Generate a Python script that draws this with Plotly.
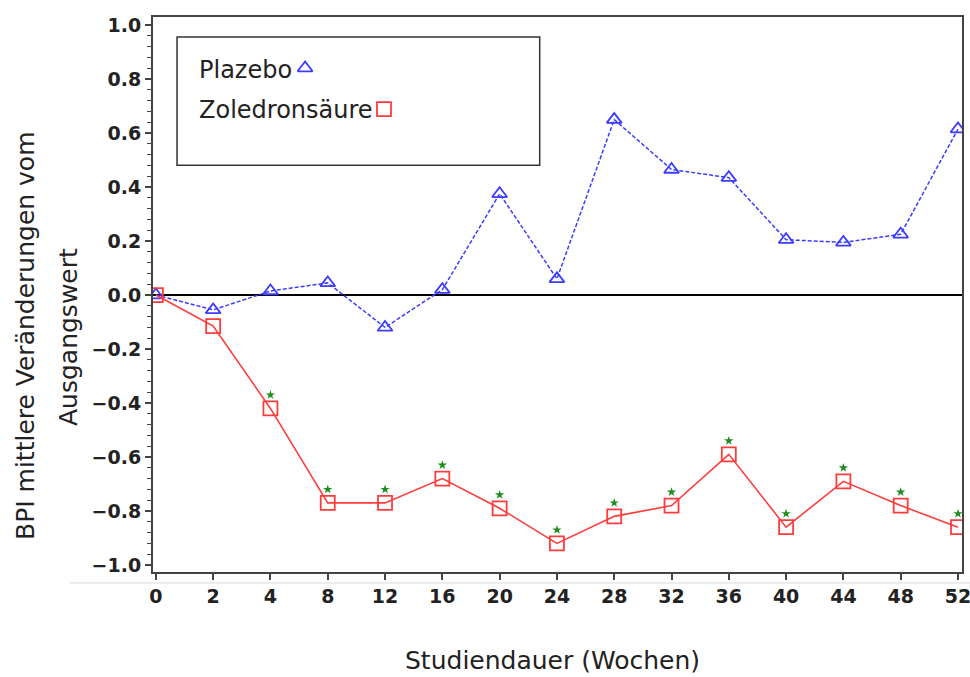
import plotly.graph_objects as go

weeks = ["0", "2", "4", "8", "12", "16", "20", "24", "28", "32", "36", "40", "44", "48", "52"]
plazebo = [0.0, -0.055, 0.015, 0.045, -0.12, 0.02, 0.375, 0.06, 0.65, 0.465, 0.435, 0.205, 0.195, 0.225, 0.615]
zoledron = [0.0, -0.115, -0.42, -0.77, -0.77, -0.68, -0.79, -0.92, -0.82, -0.78, -0.59, -0.86, -0.69, -0.78, -0.86]
signif = [0, 0, 1, 1, 1, 1, 1, 1, 1, 1, 1, 1, 1, 1, 1]
ytick_vals = [-1.0, -0.8, -0.6, -0.4, -0.2, 0.0, 0.2, 0.4, 0.6, 0.8, 1.0]
ytick_text = ["\u22121.0", "\u22120.8", "\u22120.6", "\u22120.4", "\u22120.2", "0.0", "0.2", "0.4", "0.6", "0.8", "1.0"]

BLUE = "#3c3cff"
RED = "#ff3c3c"
GREEN = "#1e8c1e"
AX = "#444444"
TXT = "#222222"

fig = go.Figure()

fig.add_trace(go.Scatter(
    x=weeks, y=plazebo, mode="lines+markers", name="Plazebo",
    line=dict(color=BLUE, width=1.5, dash="4px,2px"),
    marker=dict(symbol="triangle-up-open", size=13, color=BLUE, line=dict(width=1.8)),
))
fig.add_trace(go.Scatter(
    x=weeks, y=zoledron, mode="lines+markers", name="Zoledronsäure",
    line=dict(color=RED, width=1.6),
    marker=dict(symbol="square-open", size=14, color=RED, line=dict(width=1.8)),
))
sx = [w for w, s in zip(weeks, signif) if s]
sy = [v + 0.05 for v, s in zip(zoledron, signif) if s]
fig.add_trace(go.Scatter(
    x=sx, y=sy, mode="markers", showlegend=False,
    marker=dict(symbol="star", size=7, color=GREEN),
))

# legend glyphs on overlay axes
fig.add_trace(go.Scatter(
    x=[0.188], y=[0.908], xaxis="x2", yaxis="y2", mode="markers", showlegend=False,
    marker=dict(symbol="triangle-up-open", size=13, color=BLUE, line=dict(width=1.8)),
))
fig.add_trace(go.Scatter(
    x=[0.2855], y=[0.834], xaxis="x2", yaxis="y2", mode="markers", showlegend=False,
    marker=dict(symbol="square-open", size=14, color=RED, line=dict(width=1.8)),
))

tickfont = dict(family="DejaVu Sans", size=19, color=TXT, weight="bold")
fig.update_layout(
    width=970, height=677,
    margin=dict(l=153, r=8, t=17, b=105, autoexpand=False),
    paper_bgcolor="white", plot_bgcolor="white",
    showlegend=False,
    xaxis=dict(
        type="category", range=[-0.05, 14.07], automargin=False,
        showline=True, linecolor=AX, linewidth=2, mirror=True,
        ticks="outside", ticklen=6, tickwidth=1.5, tickcolor=AX,
        showgrid=False, zeroline=False, tickfont=tickfont,
    ),
    yaxis=dict(
        range=[-1.026, 1.03], automargin=False,
        tickvals=ytick_vals, ticktext=ytick_text,
        showline=True, linecolor=AX, linewidth=2, mirror=True,
        ticks="outside", ticklen=6, tickwidth=1.5, tickcolor=AX,
        minor=dict(dtick=0.04, tick0=0, ticks="outside", ticklen=4, tickwidth=1.2, tickcolor=AX),
        showgrid=False, zeroline=True, zerolinecolor="black", zerolinewidth=1.5,
        tickfont=tickfont,
    ),
    xaxis2=dict(overlaying="x", range=[0, 1], visible=False, anchor="y2"),
    yaxis2=dict(overlaying="y", range=[0, 1], visible=False, anchor="x2"),
    shapes=[
        dict(type="rect", xref="paper", yref="paper", x0=0.0297, x1=0.478, y0=0.733, y1=0.964,
             line=dict(color="#333333", width=1.5), fillcolor="rgba(0,0,0,0)"),
        dict(type="line", xref="paper", yref="paper", x0=-0.1026, x1=1.01, y0=-0.0198, y1=-0.0198,
             line=dict(color="#e6e6e6", width=1.5)),
    ],
    annotations=[
        dict(text="Plazebo", xref="paper", yref="paper", x=0.0544, y=0.9045, xanchor="left", yanchor="middle",
             showarrow=False, font=dict(family="DejaVu Sans", size=24, color=TXT)),
        dict(text="Zoledronsäure", xref="paper", yref="paper", x=0.0544, y=0.832, xanchor="left", yanchor="middle",
             showarrow=False, font=dict(family="DejaVu Sans", size=24, color=TXT)),
        dict(text="BPI mittlere Veränderungen vom", xref="paper", yref="paper", x=(25 - 153) / 809, y=(572 - 336) / 555,
             textangle=-90, xanchor="center", yanchor="middle", showarrow=False,
             font=dict(family="DejaVu Sans", size=25, color=TXT)),
        dict(text="Ausgangswert", xref="paper", yref="paper", x=(68 - 153) / 809, y=(572 - 337) / 555,
             textangle=-90, xanchor="center", yanchor="middle", showarrow=False,
             font=dict(family="DejaVu Sans", size=25, color=TXT)),
        dict(text="Studiendauer (Wochen)", xref="paper", yref="paper", x=(552 - 153) / 809, y=(572 - 660) / 555,
             xanchor="center", yanchor="middle", showarrow=False,
             font=dict(family="DejaVu Sans", size=25, color=TXT)),
    ],
)

fig.write_html("out.html", config={"displayModeBar": False},
               post_script="document.body.style.margin='0px';")
